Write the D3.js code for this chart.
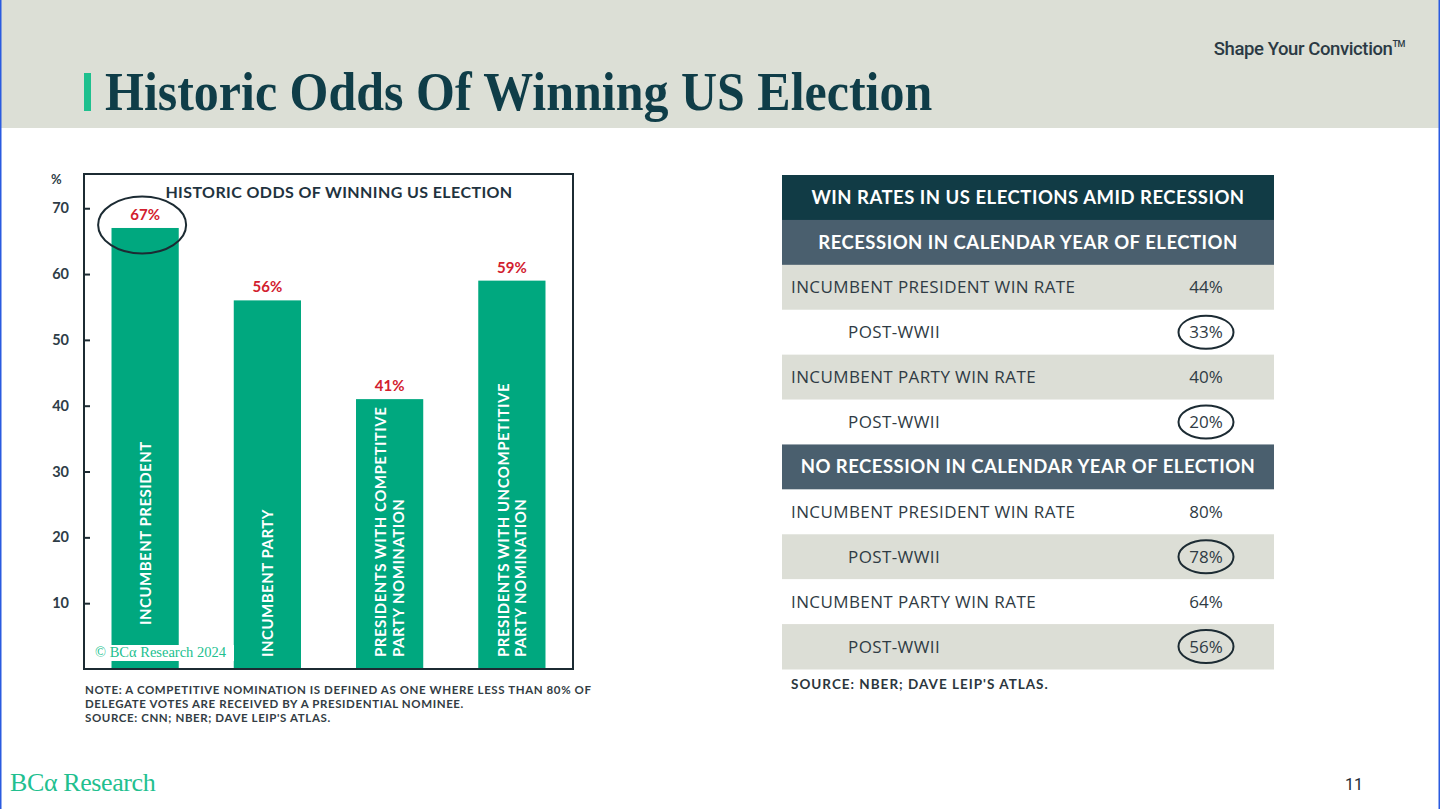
<!DOCTYPE html>
<html><head><meta charset="utf-8">
<script src="https://cdn.jsdelivr.net/npm/d3@7"></script>
<style>html,body{margin:0;padding:0;background:#fff;overflow:hidden}</style>
</head><body>
<svg id="c" width="1440" height="809"></svg>
<script>
// ---------- data ----------
const pageTitle = "Historic Odds Of Winning US Election";
const tagline = "Shape Your Conviction";
const chartTitle = "HISTORIC ODDS OF WINNING US ELECTION";
const categories = [
  "INCUMBENT PRESIDENT",
  "INCUMBENT PARTY",
  "PRESIDENTS WITH COMPETITIVE|PARTY NOMINATION",
  "PRESIDENTS WITH UNCOMPETITIVE|PARTY NOMINATION"
];
const values = [67, 56, 41, 59];
const yTicks = [10, 20, 30, 40, 50, 60, 70];
const highlighted = [true, false, false, false];
const noteLines = [
  "NOTE: A COMPETITIVE NOMINATION IS DEFINED AS ONE WHERE LESS THAN 80% OF",
  "DELEGATE VOTES ARE RECEIVED BY A PRESIDENTIAL NOMINEE.",
  "SOURCE: CNN; NBER; DAVE LEIP'S ATLAS."
];
const watermark = "© BCα Research 2024";
const tableTitle = "WIN RATES IN US ELECTIONS AMID RECESSION";
const sectionTitles = ["RECESSION IN CALENDAR YEAR OF ELECTION", "NO RECESSION IN CALENDAR YEAR OF ELECTION"];
const rowLabels = ["INCUMBENT PRESIDENT WIN RATE", "POST-WWII", "INCUMBENT PARTY WIN RATE", "POST-WWII"];
const rowIndented = [false, true, false, true];
const recessionRates = [44, 33, 40, 20];
const noRecessionRates = [80, 78, 64, 56];
const circledRows = [false, true, false, true];
const tableSource = "SOURCE: NBER; DAVE LEIP'S ATLAS.";
const logoText = "BCα Research";
const pageNumber = "11";

// ---------- styles ----------
const C = {
  band: "#dcdfd6", titleCol: "#0f3d48", accent: "#1ec08e", dark: "#1c2b33",
  bar: "#00a87f", red: "#d2202e", tDark: "#113b45", tSlate: "#4a5f6e",
  tGray: "#dcded6", text: "#2f3b44", logo: "#22bf8f"
};
const SANS = "Lato, 'Open Sans', sans-serif";
const OPEN = "'Open Sans', sans-serif";
const svg = d3.select("#c");

// ---------- header ----------
svg.append("rect").attr("x", 0).attr("y", 0).attr("width", 1440).attr("height", 128).attr("fill", C.band);
svg.append("rect").attr("x", 84).attr("y", 73).attr("width", 7).attr("height", 38).attr("fill", C.accent);
svg.append("text").attr("transform", "translate(105,110) scale(1,1.1)")
  .attr("font-family", "'Liberation Serif', serif").attr("font-weight", 700)
  .attr("font-size", 50).attr("fill", C.titleCol)
  .text(pageTitle);
const tg = svg.append("text").attr("x", 1405).attr("y", 55).attr("text-anchor", "end")
  .attr("font-family", "Roboto, sans-serif").attr("font-weight", 500)
  .attr("font-size", 18.5).attr("fill", "#2b3a44").attr("letter-spacing", -0.4);
tg.append("tspan").text(tagline);
tg.append("tspan").attr("font-size", 9).attr("dy", -8).text("TM");

// ---------- bar chart ----------
const box = {x0: 84, x1: 573, y0: 174, y1: 669};
const x = d3.scaleBand().domain(categories).range([box.x0, box.x1]).paddingInner(0.45).paddingOuter(0.225);
const y = d3.scaleLinear().domain([0, 75.2]).range([box.y1, box.y0]);

const chart = svg.append("g");
chart.selectAll("rect.bar").data(values).join("rect").attr("class", "bar")
  .attr("x", (d, i) => x(categories[i])).attr("width", x.bandwidth())
  .attr("y", d => y(d)).attr("height", d => y(0) - y(d)).attr("fill", C.bar);

// watermark with white backing
const wmG = chart.append("g");
wmG.append("rect").attr("x", 94).attr("y", 645).attr("width", 140).attr("height", 16).attr("fill", "#fff");
wmG.append("text").attr("x", 95).attr("y", 657)
  .attr("font-family", "'Liberation Serif', serif").attr("font-size", 14.5).attr("fill", C.logo)
  .text(watermark);

// bar inside labels (rotated)
categories.forEach((cat, i) => {
  const lines = cat.split("|");
  const cx = x(cat) + x.bandwidth() / 2;
  const startY = y(0) - (i === 0 ? 44 : 12);
  const lh = 17.5;
  const t = chart.append("text")
    .attr("transform", `translate(${cx},${startY}) rotate(-90)`)
    .attr("font-family", SANS).attr("font-weight", 700).attr("font-size", 15)
    .attr("fill", "#fff").attr("letter-spacing", 0.5);
  lines.forEach((ln, k) => {
    t.append("tspan").attr("x", 0)
      .attr("y", (k - (lines.length - 1) / 2) * lh + 5.5)
      .text(ln);
  });
});

// value labels
chart.selectAll("text.val").data(values).join("text").attr("class", "val")
  .attr("x", (d, i) => x(categories[i]) + x.bandwidth() / 2)
  .attr("y", d => y(d) - 8).attr("text-anchor", "middle")
  .attr("font-family", SANS).attr("font-weight", 700).attr("font-size", 15)
  .attr("fill", C.red).text(d => d + "%");

// highlight ellipse
values.forEach((v, i) => {
  if (!highlighted[i]) return;
  chart.append("ellipse")
    .attr("cx", x(categories[i]) + x.bandwidth() / 2 - 3)
    .attr("cy", y(v) - 3).attr("rx", 44).attr("ry", 28.5)
    .attr("fill", "none").attr("stroke", C.dark).attr("stroke-width", 2);
});

// frame
chart.append("rect").attr("x", box.x0).attr("y", box.y0)
  .attr("width", box.x1 - box.x0).attr("height", box.y1 - box.y0)
  .attr("fill", "none").attr("stroke", C.dark).attr("stroke-width", 2);

// y axis
const yAxis = d3.axisRight(y).tickValues(yTicks).tickSize(6).tickFormat("");
const ya = chart.append("g").attr("transform", `translate(${box.x0},0)`).call(yAxis);
ya.select(".domain").remove();
ya.selectAll("line").attr("stroke", C.dark).attr("stroke-width", 2);
chart.selectAll("text.ytick").data(yTicks).join("text").attr("class", "ytick")
  .attr("x", 69).attr("y", d => y(d) + 5).attr("text-anchor", "end")
  .attr("font-family", SANS).attr("font-weight", 700).attr("font-size", 14.5)
  .attr("fill", "#2e3d47").text(d => d);
chart.append("text").attr("x", 51).attr("y", 184)
  .attr("font-family", SANS).attr("font-weight", 700).attr("font-size", 13)
  .attr("fill", "#2e3d47").text("%");

chart.append("text").attr("x", 339).attr("y", 198).attr("text-anchor", "middle")
  .attr("font-family", SANS).attr("font-weight", 700).attr("font-size", 16)
  .attr("letter-spacing", 0.4).attr("fill", "#1f3340").text(chartTitle);

// notes
svg.selectAll("text.note").data(noteLines).join("text").attr("class", "note")
  .attr("x", 85).attr("y", (d, i) => 694 + i * 14)
  .attr("font-family", SANS).attr("font-weight", 700).attr("font-size", 11.5)
  .attr("letter-spacing", 0.6).attr("fill", "#333d44").text(d => d);

// ---------- table ----------
const tableRows = [];
tableRows.push({type: "title", label: tableTitle});
[[sectionTitles[0], recessionRates], [sectionTitles[1], noRecessionRates]].forEach(([sec, rates]) => {
  tableRows.push({type: "section", label: sec});
  rowLabels.forEach((lb, j) => tableRows.push({type: "row", label: lb, value: rates[j], indent: rowIndented[j], circled: circledRows[j]}));
});
const T = {x0: 782, x1: 1274, y0: 175, y1: 669};
const ty = d3.scaleBand().domain(d3.range(tableRows.length)).range([T.y0, T.y1]);
const valX = 1206;
const tg2 = svg.append("g");
tableRows.forEach((r, i) => {
  const fill = r.type === "title" ? C.tDark : r.type === "section" ? C.tSlate : (i % 2 === 0 ? C.tGray : "#fff");
  tg2.append("rect").attr("x", T.x0).attr("y", ty(i)).attr("width", T.x1 - T.x0).attr("height", ty.bandwidth() + 0.5).attr("fill", fill);
  const cy = ty(i) + ty.bandwidth() / 2;
  if (r.type !== "row") {
    tg2.append("text").attr("x", (T.x0 + T.x1) / 2).attr("y", cy + 6.5).attr("text-anchor", "middle")
      .attr("font-family", SANS).attr("font-weight", 700).attr("font-size", 18.5)
      .attr("letter-spacing", 0.5).attr("fill", "#fff").text(r.label);
  } else {
    tg2.append("text").attr("x", r.indent ? 848 : 791).attr("y", cy + 6)
      .attr("font-family", OPEN).attr("font-size", 17).attr("letter-spacing", 0.4)
      .attr("fill", C.text).text(r.label);
    tg2.append("text").attr("x", valX).attr("y", cy + 6).attr("text-anchor", "middle")
      .attr("font-family", OPEN).attr("font-size", 17)
      .attr("fill", C.text).text(r.value + "%");
    if (r.circled) {
      tg2.append("ellipse").attr("cx", valX).attr("cy", cy).attr("rx", 27.5).attr("ry", 16.5)
        .attr("fill", "none").attr("stroke", C.dark).attr("stroke-width", 2);
    }
  }
});
svg.append("text").attr("x", 791).attr("y", 689)
  .attr("font-family", SANS).attr("font-weight", 700).attr("font-size", 13.5)
  .attr("letter-spacing", 1).attr("fill", "#2b363d").text(tableSource);

// ---------- footer ----------
svg.append("text").attr("x", 10).attr("y", 791)
  .attr("font-family", "'Liberation Serif', serif").attr("font-size", 26)
  .attr("fill", C.logo).attr("letter-spacing", -0.4).text(logoText);
svg.append("text").attr("x", 1345).attr("y", 790)
  .attr("font-family", "Roboto, sans-serif").attr("font-size", 16)
  .attr("fill", "#1c2b33").text(pageNumber);

// frame edges
svg.append("line").attr("x1", 0.75).attr("x2", 0.75).attr("y1", 0).attr("y2", 809).attr("stroke", "#2a5be0").attr("stroke-width", 1.5);
svg.append("line").attr("x1", 1439.25).attr("x2", 1439.25).attr("y1", 0).attr("y2", 809).attr("stroke", "#2a5be0").attr("stroke-width", 1.5);
</script>
</body></html>
